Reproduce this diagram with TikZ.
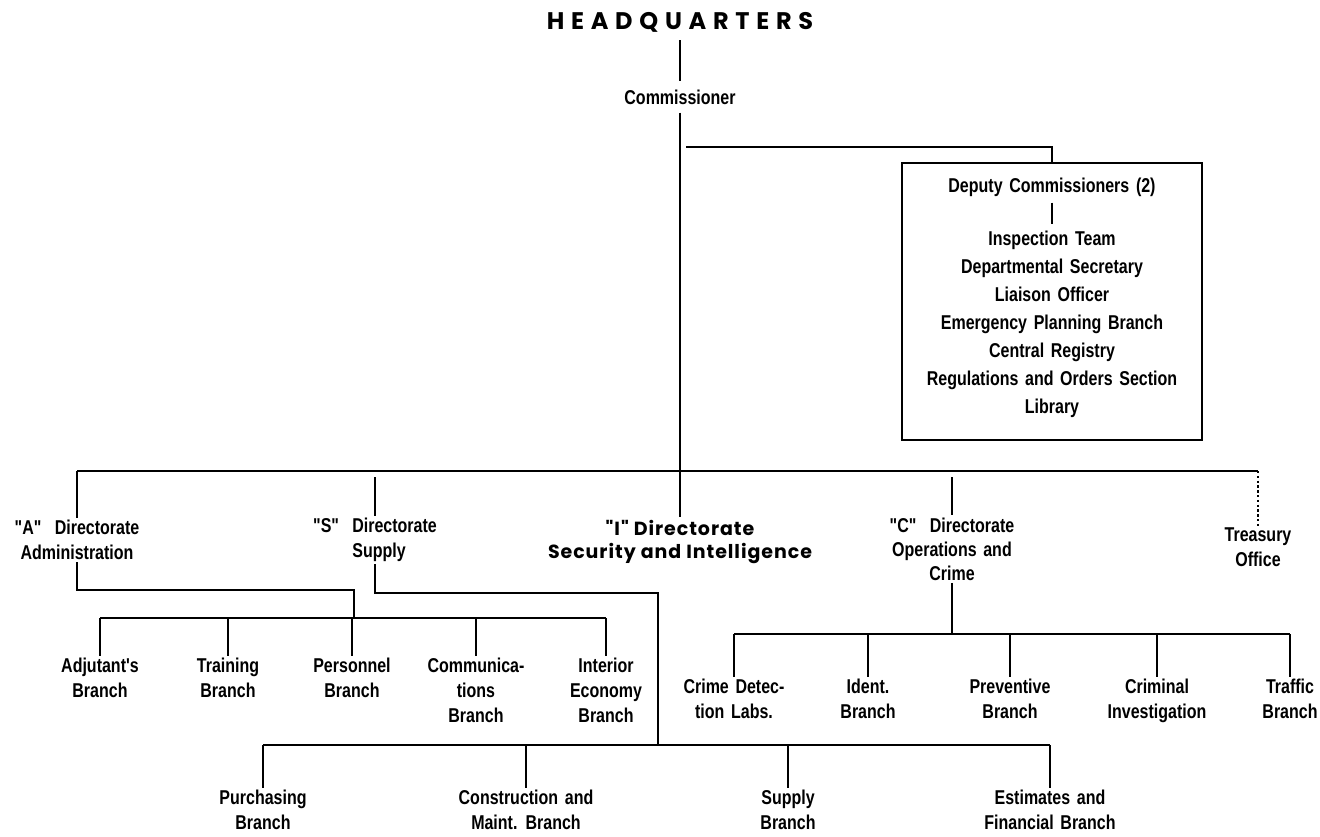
\documentclass[tikz,border=0pt]{standalone}
\usepackage{fontspec}
\newfontfamily\condfont{Liberation Sans}[FakeStretch=0.8, WordSpace=1.5]
\newfontfamily\geofont{Poppins}
\usetikzlibrary{positioning}
\tikzset{%
  unit/.style    = {font=\condfont\bfseries\fontsize{10}{12.5}\selectfont,
    align=center, inner sep=1pt},
  branch/.style  = {unit, anchor=north},
  panel/.style   = {draw, line width=1.4pt, minimum width=150pt,
    minimum height=138.5pt, inner sep=0pt},
  hqtitle/.style = {font=\geofont\bfseries\fontsize{12}{14}\selectfont\addfontfeature{LetterSpace=28},
    inner sep=1pt},
  intel/.style   = {font=\geofont\bfseries\fontsize{9.5}{11.5}\selectfont\addfontfeature{LetterSpace=5},
    align=center, inner sep=1pt},
  link/.style    = {line width=1.4pt},
  dots/.style    = {line width=1.4pt, dash pattern=on 1.2pt off 1.2pt}
}

\begin{document}
\begin{tikzpicture}[x=0.5pt, y=-0.5pt, node distance=37.5pt]
  \useasboundingbox[fill=white] (0,0) rectangle (1320,836);

  % commissioner and deputies
  \draw node at (680,22) [hqtitle] (hq) {HEADQUARTERS};
  \draw node [unit, below of=hq] (comm) {Commissioner};
  \draw node at (1052,301.5) [panel] (dcbox) {};
  \draw node at (1052,187) [unit] (dep) {Deputy Commissioners (2)};
  \draw node at (1052,324) [unit, font=\condfont\bfseries\fontsize{10}{14}\selectfont] (staff)
    {Inspection Team\\Departmental Secretary\\Liaison Officer\\Emergency Planning Branch\\
     Central Registry\\Regulations and Orders Section\\Library};

  \coordinate (hub) at (680,471);
  \coordinate (djog) at (686,147);
  \draw[link, shorten <=3pt, shorten >=3pt] (hq) -- (comm);
  \draw[link, shorten <=3pt] (comm) -- (hub);
  \draw[link] (djog) -| (dcbox.north);
  \draw[link, shorten <=2pt, shorten >=2pt] (dep) -- (staff);

  % directorates
  \draw node at (77,540) [unit] (adir) {"A"\ \ Directorate\\Administration};
  \draw node at (375,540) [unit, align=left] (sdir) {"S"\ \ Directorate\\\phantom{"S"\ \ }Supply};
  \draw node at (680,541.5) [intel] (idir) {"I" Directorate\\Security and Intelligence};
  \draw node at (952,549) [unit, font=\condfont\bfseries\fontsize{10}{12}\selectfont] (cdir)
    {"C"\ \ Directorate\\Operations and\\Crime};
  \draw node at (1258,547.5) [unit] (trs) {Treasury\\Office};

  \draw[link] (adir.north |- hub) -- (trs.north |- hub);
  \draw[link] (adir.north |- hub) -- (adir.north);
  \draw[link, shorten <=3pt] (sdir.north |- hub) -- (sdir.north);
  \draw[link] (hub) -- (idir.north);
  \draw[link, shorten <=3pt] (cdir.north |- hub) -- (cdir.north);
  \draw[dots] (trs.north |- hub) -- (trs.north);

  % "A" branches
  \coordinate (ajog) at (354,590);
  \coordinate (abar) at (354,618);
  \draw node at (100,656) [branch] (adj) {Adjutant's\\Branch};
  \draw node at (228,656) [branch] (trn) {Training\\Branch};
  \draw node at (352,656) [branch] (per) {Personnel\\Branch};
  \draw node at (476,656) [branch] (com) {Communica-\\tions\\Branch};
  \draw node at (606,656) [branch] (inf) {Interior\\Economy\\Branch};

  \draw[link] (adir.south) |- (ajog) -- (abar);
  \draw[link] (adj.north |- abar) -- (inf.north |- abar);
  \draw[link] (adj.north |- abar) -- (adj.north);
  \draw[link] (trn.north |- abar) -- (trn.north);
  \draw[link] (per.north |- abar) -- (per.north);
  \draw[link] (com.north |- abar) -- (com.north);
  \draw[link] (inf.north |- abar) -- (inf.north);

  % "S" branches
  \coordinate (sjog) at (658,593);
  \coordinate (sbar) at (658,745);
  \draw node at (263,788) [branch] (pur) {Purchasing\\Branch};
  \draw node at (526,788) [branch] (con) {Construction and\\Maint. Branch};
  \draw node at (788,788) [branch] (sup) {Supply\\Branch};
  \draw node at (1050,788) [branch] (est) {Estimates and\\Financial Branch};

  \draw[link] (sdir.south) |- (sjog) -- (sbar);
  \draw[link] (pur.north |- sbar) -- (est.north |- sbar);
  \draw[link] (pur.north |- sbar) -- (pur.north);
  \draw[link] (con.north |- sbar) -- (con.north);
  \draw[link] (sup.north |- sbar) -- (sup.north);
  \draw[link] (est.north |- sbar) -- (est.north);

  % "C" branches
  \coordinate (cbar) at (952,634);
  \draw node at (734,677) [branch] (lab) {Crime Detec-\\tion Labs.};
  \draw node at (868,677) [branch] (idn) {Ident.\\Branch};
  \draw node at (1010,677) [branch] (prv) {Preventive\\Branch};
  \draw node at (1157,677) [branch] (cri) {Criminal\\Investigation};
  \draw node at (1290,677) [branch] (trf) {Traffic\\Branch};

  \draw[link] (cdir.south) -- (cbar);
  \draw[link] (lab.north |- cbar) -- (trf.north |- cbar);
  \draw[link] (lab.north |- cbar) -- (lab.north);
  \draw[link] (idn.north |- cbar) -- (idn.north);
  \draw[link] (prv.north |- cbar) -- (prv.north);
  \draw[link] (cri.north |- cbar) -- (cri.north);
  \draw[link] (trf.north |- cbar) -- (trf.north);
\end{tikzpicture}
\end{document}
